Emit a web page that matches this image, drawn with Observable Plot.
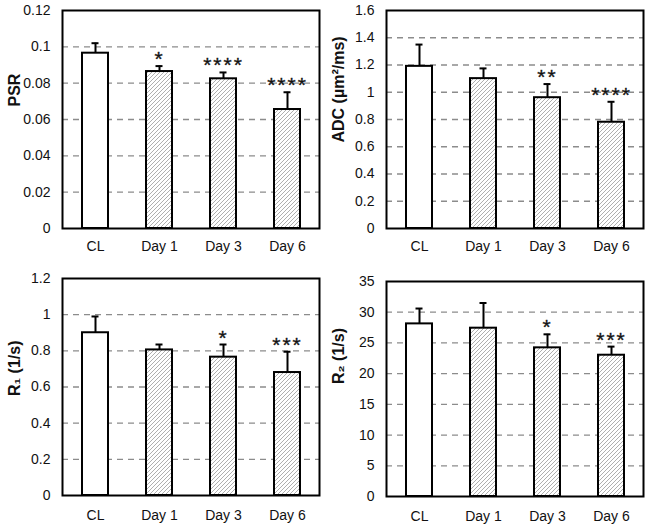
<!DOCTYPE html>
<html><head><meta charset="utf-8">
<script src="https://cdn.jsdelivr.net/npm/d3@7"></script>
<script src="https://cdn.jsdelivr.net/npm/@observablehq/plot@0.6"></script>
<style>
body{margin:0;background:#fff;}
#wrap{position:relative;width:648px;height:528px;overflow:hidden;}
#wrap svg{position:absolute;}
</style></head><body><div id="wrap"></div>
<script>
const categories = ["CL", "Day 1", "Day 3", "Day 6"];

const psrMean = [0.0965, 0.0864, 0.0824, 0.0655];
const psrSD   = [0.0055, 0.0030, 0.0035, 0.0095];
const psrStars = ["", "*", "****", "****"];
const psrTicks = [0, 0.02, 0.04, 0.06, 0.08, 0.1, 0.12];

const adcMean = [1.19, 1.10, 0.96, 0.78];
const adcSD   = [0.16, 0.075, 0.10, 0.15];
const adcStars = ["", "", "**", "****"];
const adcTicks = [0, 0.2, 0.4, 0.6, 0.8, 1, 1.2, 1.4, 1.6];

const r1Mean = [0.90, 0.805, 0.765, 0.68];
const r1SD   = [0.09, 0.03, 0.07, 0.115];
const r1Stars = ["", "", "*", "***"];
const r1Ticks = [0, 0.2, 0.4, 0.6, 0.8, 1, 1.2];

const r2Mean = [28.1, 27.4, 24.2, 23.0];
const r2SD   = [2.5, 4.1, 2.2, 1.4];
const r2Stars = ["", "", "*", "***"];
const r2Ticks = [0, 5, 10, 15, 20, 25, 30, 35];

const wrap = document.getElementById("wrap");

function panel({id, label, mean, sd, stars, ticks, left, top, height, mt, mb, labelDy, xPad}) {
  const data = categories.map((c, i) => ({cat: c, v: mean[i], hi: mean[i] + sd[i], star: stars[i]}));
  const max = ticks[ticks.length - 1];
  const pid = "hatch-" + id;
  const svg = Plot.plot({
    width: 324, height,
    marginLeft: 62, marginRight: 5, marginTop: mt, marginBottom: mb,
    style: {fontFamily: "'Liberation Sans', Arial, sans-serif", fontSize: "14px", color: "#111", background: "white"},
    x: {domain: categories, paddingInner: 0.6, paddingOuter: 0.3, label: null},
    y: {domain: [0, max], label: null},
    marks: [
      Plot.gridY(ticks.filter(t => t > 0 && t < max), {stroke: "#8c8c8c", strokeOpacity: 1, strokeWidth: 1.3, strokeDasharray: "6,5"}),
      Plot.ruleX(data, {x: "cat", y1: "v", y2: "hi", stroke: "#000", strokeWidth: 2}),
      Plot.tickY(data, {x: "cat", y: "hi", stroke: "#000", strokeWidth: 2, insetLeft: 9.5, insetRight: 9.5}),
      Plot.barY(data.filter(d => d.cat === "CL"), {x: "cat", y: "v", fill: "white", stroke: "#000", strokeWidth: 2}),
      Plot.barY(data.filter(d => d.cat !== "CL"), {x: "cat", y: "v", fill: `url(#${pid})`, stroke: "#000", strokeWidth: 2}),
      Plot.text(data, {x: "cat", y: "hi", text: "star", lineAnchor: "bottom", dy: 0, fontSize: 21, fill: "#111", stroke: "#111", strokeWidth: 0.3}),
      Plot.frame({stroke: "#000", strokeWidth: 2}),
      Plot.axisY(ticks, {tickSize: 0, tickPadding: 12, tickFormat: d => String(d), label: null, fontSize: 14}),
      Plot.axisX({tickSize: 0, tickPadding: xPad, label: null, fontSize: 14}),
      Plot.text([label], {frameAnchor: "left", rotate: -90, dx: -48, dy: labelDy, text: d => d, fontWeight: "bold", fontSize: 16, fill: "#111"})
    ]
  });
  const defs = d3.select(svg).insert("defs", ":first-child");
  const pat = defs.append("pattern").attr("id", pid).attr("patternUnits", "userSpaceOnUse")
    .attr("width", 4).attr("height", 4);
  pat.append("rect").attr("width", 4).attr("height", 4).attr("fill", "white");
  pat.append("path").attr("d", "M-1,1 L1,-1 M0,4 L4,0 M3,5 L5,3").attr("stroke", "#9a9a9a").attr("stroke-width", 0.8);
  d3.select(svg).selectAll("text").filter(function() { return /^\*+$/.test(this.textContent); })
    .attr("letter-spacing", "2px");
  svg.style.left = left + "px";
  svg.style.top = top + "px";
  wrap.appendChild(svg);
}

panel({id: "psr", label: "PSR", mean: psrMean, sd: psrSD, stars: psrStars, ticks: psrTicks,
  left: 0, top: 0, height: 260, mt: 10, mb: 32, labelDy: -13, xPad: 13});
panel({id: "adc", label: "ADC (µm²/ms)", mean: adcMean, sd: adcSD, stars: adcStars, ticks: adcTicks,
  left: 324, top: 0, height: 260, mt: 10, mb: 32, labelDy: 23, xPad: 13});
panel({id: "r1", label: "R₁ (1/s)", mean: r1Mean, sd: r1SD, stars: r1Stars, ticks: r1Ticks,
  left: 0, top: 260, height: 268, mt: 18, mb: 33, labelDy: 9, xPad: 15});
panel({id: "r2", label: "R₂ (1/s)", mean: r2Mean, sd: r2SD, stars: r2Stars, ticks: r2Ticks,
  left: 324, top: 260, height: 268, mt: 21, mb: 32, labelDy: -5, xPad: 15});
</script>
</body></html>
